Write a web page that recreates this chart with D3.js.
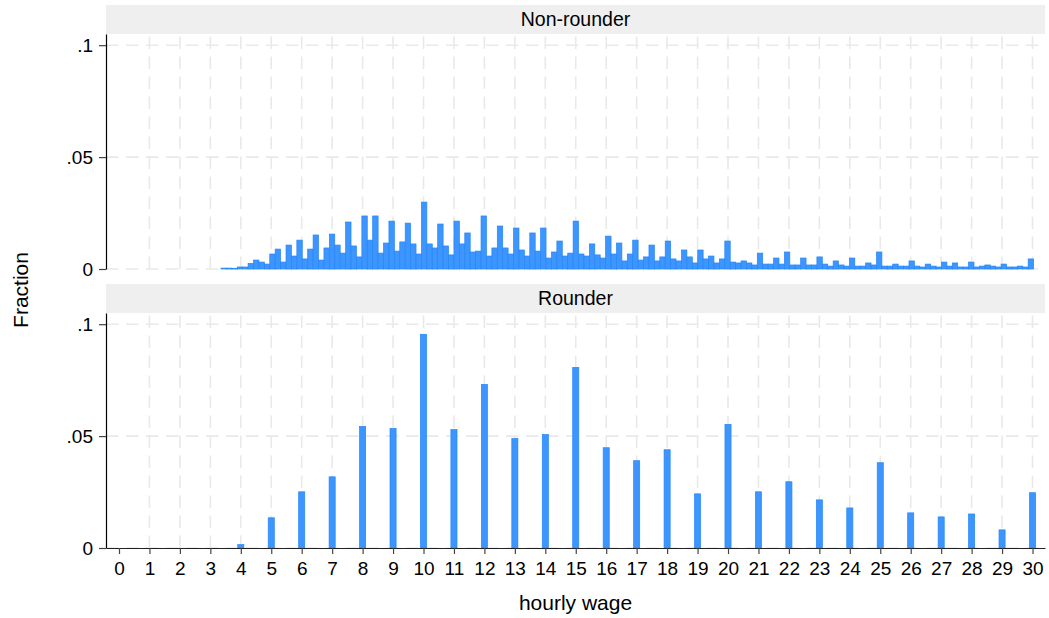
<!DOCTYPE html>
<html>
<head>
<meta charset="utf-8">
<script src="https://cdn.jsdelivr.net/npm/d3@7"></script>
<style>
  html, body { margin: 0; padding: 0; background: #ffffff; }
  svg { display: block; }
  text { font-family: "Liberation Sans", Arial, Helvetica, sans-serif; fill: #000; }
</style>
</head>
<body>
<svg id="chart" width="1049" height="618"></svg>
<script>
// ---------------- data ----------------
const panelTitles = ["Non-rounder", "Rounder"];
const xTickValues = [0,1,2,3,4,5,6,7,8,9,10,11,12,13,14,15,16,17,18,19,20,21,22,23,24,25,26,27,28,29,30];
const yTickValues = [0, 0.05, 0.1];
const yTickLabels = ["0", ".05", ".1"];

// Non-rounder histogram: 150 bins starting at 3.35, width 0.1779
const nonRounderStart = 3.35;
const nonRounderBinWidth = 0.1779;
const nonRounderFrac = [
  0.0004,0.0004,0.0003,0.0009,0.0009,0.0025,0.0040,0.0031,0.0022,0.0067,
  0.0089,0.0031,0.0107,0.0058,0.0129,0.0045,0.0089,0.0152,0.0040,0.0094,
  0.0156,0.0107,0.0071,0.0210,0.0103,0.0054,0.0237,0.0129,0.0237,0.0071,
  0.0116,0.0214,0.0080,0.0121,0.0205,0.0112,0.0067,0.0299,0.0112,0.0094,
  0.0201,0.0103,0.0063,0.0214,0.0112,0.0161,0.0076,0.0080,0.0237,0.0058,
  0.0094,0.0192,0.0094,0.0067,0.0183,0.0085,0.0058,0.0161,0.0080,0.0183,
  0.0049,0.0076,0.0125,0.0058,0.0071,0.0214,0.0067,0.0058,0.0112,0.0063,
  0.0049,0.0147,0.0067,0.0116,0.0036,0.0067,0.0129,0.0040,0.0054,0.0107,
  0.0036,0.0054,0.0125,0.0045,0.0036,0.0085,0.0054,0.0027,0.0085,0.0045,
  0.0058,0.0027,0.0045,0.0125,0.0031,0.0027,0.0036,0.0027,0.0018,0.0071,
  0.0022,0.0022,0.0049,0.0022,0.0076,0.0018,0.0018,0.0049,0.0018,0.0018,
  0.0054,0.0022,0.0013,0.0036,0.0018,0.0013,0.0049,0.0013,0.0013,0.0027,
  0.0018,0.0076,0.0013,0.0013,0.0022,0.0013,0.0013,0.0036,0.0013,0.0009,
  0.0022,0.0013,0.0009,0.0031,0.0013,0.0027,0.0009,0.0009,0.0031,0.0009,
  0.0013,0.0018,0.0013,0.0009,0.0022,0.0009,0.0009,0.0013,0.0009,0.0045
];

// Rounder histogram: bars centred on whole-dollar wages, width 0.2
const rounderWages = [4,5,6,7,8,9,10,11,12,13,14,15,16,17,18,19,20,21,22,23,24,25,26,27,28,29,30];
const rounderBinWidth = 0.2;
const rounderFrac = [
  0.0015,0.0135,0.0251,0.0318,0.0543,0.0534,0.0955,0.0529,0.0731,0.0489,
  0.0507,0.0807,0.0448,0.0390,0.0439,0.0242,0.0552,0.0251,0.0296,0.0215,
  0.0179,0.0381,0.0157,0.0139,0.0152,0.0081,0.0247
];

// ---------------- layout ----------------
const svg = d3.select("#chart");
const plotLeft = 106, plotRight = 1045;
const fontAxis = 19;
const barFill = "#3d95ff", barStroke = "#2586f7";
const gridColor = "#e9e9e9";

const x = d3.scaleLinear().domain([-0.427, 30.41]).range([plotLeft, plotRight]);

const panels = [
  { title: panelTitles[0], stripTop: 5, top: 34, bottom: 269, showX: false },
  { title: panelTitles[1], stripTop: 284, top: 313, bottom: 548, showX: true }
];

const nonRounderBins = nonRounderFrac.map((v, i) => ({
  x0: nonRounderStart + i * nonRounderBinWidth,
  x1: nonRounderStart + (i + 1) * nonRounderBinWidth,
  v
}));
const rounderBins = rounderFrac.map((v, i) => ({
  x0: rounderWages[i] - rounderBinWidth / 2,
  x1: rounderWages[i] + rounderBinWidth / 2,
  v
}));
const binSets = [nonRounderBins, rounderBins];

panels.forEach((p, pi) => {
  const y = d3.scaleLinear().domain([0, 0.105]).range([p.bottom, p.top]);
  const g = svg.append("g");

  // strip
  g.append("rect")
    .attr("x", plotLeft).attr("y", p.stripTop)
    .attr("width", plotRight - plotLeft).attr("height", p.top - p.stripTop)
    .attr("fill", "#efefef");
  g.append("text")
    .attr("x", (plotLeft + plotRight) / 2)
    .attr("y", (p.stripTop + p.top) / 2)
    .attr("dy", "0.35em")
    .attr("text-anchor", "middle")
    .attr("font-size", 19.5)
    .text(p.title);

  // grid lines
  const gridV = xTickValues.filter(d => d !== 0);
  g.append("g").selectAll("line").data(gridV).join("line")
    .attr("x1", d => x(d)).attr("x2", d => x(d))
    .attr("y1", p.bottom).attr("y2", p.top)
    .attr("stroke", gridColor).attr("stroke-width", 1.6)
    .attr("stroke-dasharray", "12.5,7.5");
  g.append("g").selectAll("line").data(yTickValues).join("line")
    .attr("x1", plotLeft).attr("x2", plotRight)
    .attr("y1", d => y(d)).attr("y2", d => y(d))
    .attr("stroke", gridColor).attr("stroke-width", 1.6)
    .attr("stroke-dasharray", "12.5,7.5");

  // bars
  g.append("g").selectAll("rect").data(binSets[pi]).join("rect")
    .attr("x", d => x(d.x0))
    .attr("width", d => x(d.x1) - x(d.x0))
    .attr("y", d => y(d.v))
    .attr("height", d => y(0) - y(d.v))
    .attr("fill", barFill)
    .attr("stroke", barStroke)
    .attr("stroke-width", 0.7);

  // y axis
  const yAxis = d3.axisLeft(y)
    .tickValues(yTickValues)
    .tickFormat((d, i) => yTickLabels[i])
    .tickSize(7).tickSizeOuter(0).tickPadding(6);
  const ya = g.append("g").attr("transform", `translate(${plotLeft},0)`).call(yAxis);
  ya.select(".domain").attr("stroke", "#000").attr("stroke-width", 1.2);
  ya.selectAll(".tick line").attr("stroke", "#444").attr("stroke-width", 1.2);
  ya.selectAll(".tick text").attr("font-size", fontAxis).attr("fill", "#000")
    .style("font-family", "'Liberation Sans', Arial, Helvetica, sans-serif");

  if (p.showX) {
    const xAxis = d3.axisBottom(x)
      .tickValues(xTickValues)
      .tickFormat(d3.format("d"))
      .tickSize(6).tickSizeOuter(0).tickPadding(8);
    const xa = g.append("g").attr("transform", `translate(0,${p.bottom})`).call(xAxis);
    xa.select(".domain").attr("stroke", "#222").attr("stroke-width", 1.2);
    xa.selectAll(".tick line").attr("stroke", "#444").attr("stroke-width", 1.2);
    xa.selectAll(".tick text").attr("font-size", fontAxis).attr("fill", "#000")
      .style("font-family", "'Liberation Sans', Arial, Helvetica, sans-serif");
  }
});

// axis titles
svg.append("text")
  .attr("transform", "translate(28,290) rotate(-90)")
  .attr("text-anchor", "middle")
  .attr("font-size", 21)
  .text("Fraction");
svg.append("text")
  .attr("x", (plotLeft + plotRight) / 2)
  .attr("y", 610)
  .attr("text-anchor", "middle")
  .attr("font-size", 21)
  .text("hourly wage");
</script>
</body>
</html>
